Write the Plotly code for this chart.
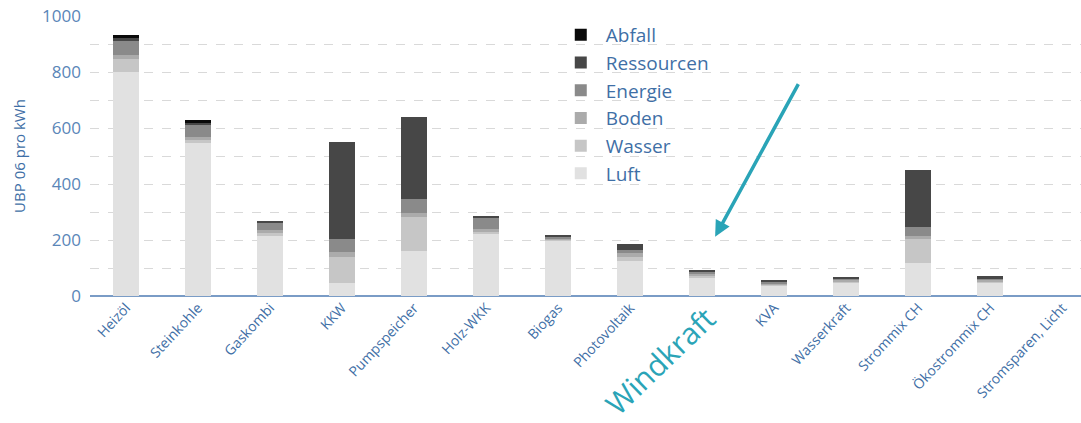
import plotly.graph_objs as go

categories = ["Heizöl", "Steinkohle", "Gaskombi", "KKW", "Pumpspeicher", "Holz-WKK",
              "Biogas", "Photovoltaik", "Windkraft", "KVA", "Wasserkraft",
              "Strommix CH", "Ökostrommix CH", "Stromsparen, Licht"]

luft = [800, 545, 214, 45, 162, 224, 198, 126, 67, 36, 45, 117, 45, 0]
wasser = [48, 12, 10, 95, 119, 6, 5, 14, 6, 6, 8, 85, 8, 0]
boden = [14, 12, 12, 16, 14, 10, 4, 12, 6, 4, 5, 12, 5, 0]
energie = [52, 42, 25, 48, 50, 40, 4, 14, 6, 6, 6, 34, 6, 0]
ressourcen = [6, 6, 8, 347, 293, 6, 8, 20, 8, 3, 5, 202, 7, 0]
abfall = [12, 13, 0, 0, 0, 0, 0, 0, 0, 0, 0, 0, 0, 0]

series = [
    ("Luft", luft, "#e1e1e1"),
    ("Wasser", wasser, "#c6c6c6"),
    ("Boden", boden, "#ababab"),
    ("Energie", energie, "#8a8a8a"),
    ("Ressourcen", ressourcen, "#474747"),
    ("Abfall", abfall, "#0a0a0a"),
]

blue = "#3f6fa6"
teal = "#2aa4b7"

# Windkraft gets its own big label, so leave its tick empty
ticktext = ["" if c == "Windkraft" else c for c in categories]

data = [
    go.Bar(x=list(range(len(categories))), y=vals, name=name,
           marker=dict(color=color, line=dict(width=0)), width=0.36)
    for name, vals, color in series
]

layout = go.Layout(
    barmode="stack",
    width=1081,
    height=423,
    margin=dict(l=90, r=0, t=16, b=127),
    paper_bgcolor="white",
    plot_bgcolor="white",
    font=dict(family="Open Sans", color=blue),
    showlegend=True,
    legend=dict(
        x=0.47, y=1.0, xanchor="left", yanchor="top",
        traceorder="reversed",
        font=dict(size=19, color=blue),
        bgcolor="rgba(0,0,0,0)",
        itemwidth=40,
        tracegroupgap=0,
    ),
    xaxis=dict(
        range=[-0.5, 13.26],
        tickmode="array",
        tickvals=list(range(len(categories))),
        ticktext=ticktext,
        tickangle=-47,
        tickfont=dict(size=14, color=blue),
        showgrid=False,
        showline=False,
        zeroline=False,
        ticks="",
        automargin=False,
    ),
    yaxis=dict(
        title=dict(text="UBP 06 pro kWh", font=dict(size=15, color=blue), standoff=12),
        range=[0, 1000],
        dtick=200,
        tickfont=dict(size=17, color="#5a86b8"),
        showgrid=True,
        gridcolor="#d9d9d9",
        griddash="dash",
        minor=dict(dtick=100, showgrid=True, gridcolor="#d9d9d9", griddash="dash"),
        zeroline=True,
        zerolinecolor="#7a9cc6",
        zerolinewidth=1.5,
        ticklabelstandoff=8,
        automargin=False,
    ),
    annotations=[
        dict(
            x=8, y=-0.23, xref="x", yref="paper", xshift=-42,
            xanchor="center", yanchor="middle",
            text="Windkraft", showarrow=False, textangle=-44,
            font=dict(size=30, color=teal),
        ),
        dict(
            x=8.18, y=212, xref="x", yref="y",
            ax=84, ay=-154, axref="pixel", ayref="pixel",
            text="", showarrow=True, arrowhead=2, arrowsize=0.9,
            arrowwidth=3.5, arrowcolor=teal,
        ),
    ],
)

fig = go.Figure(data=data, layout=layout)
# drop the default page margin so the figure sits at the window's corner
fig.write_html("out.html", config={"displayModeBar": False},
               post_script="document.body.style.margin='0';")
